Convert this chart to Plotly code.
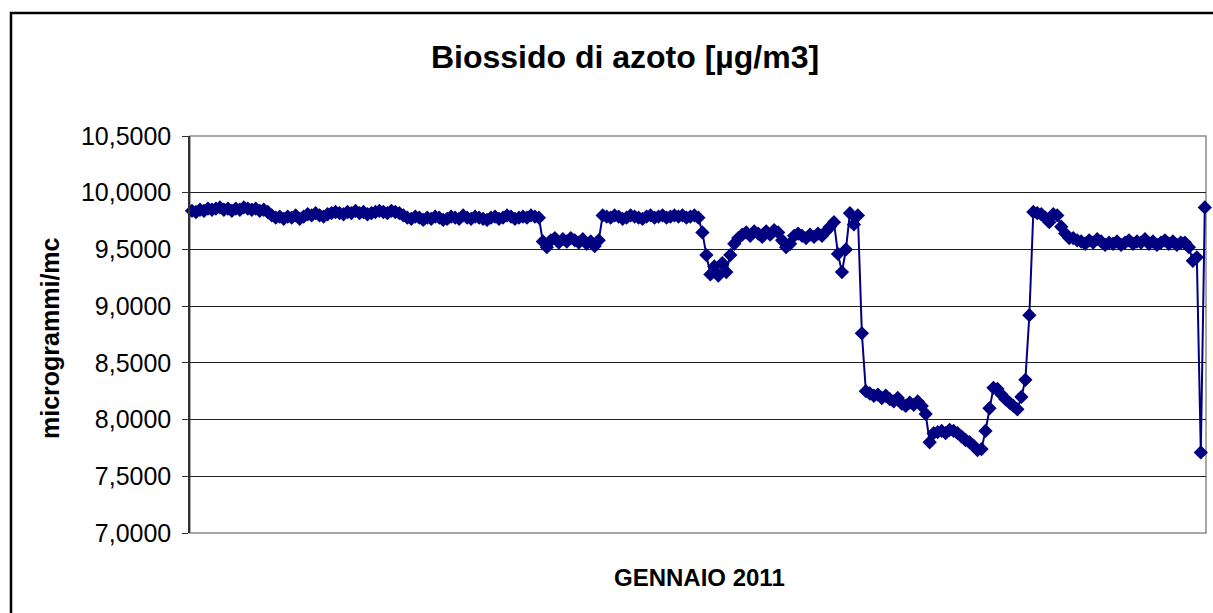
import plotly.graph_objects as go

# NO2 readings, January 2011 (left to right)
valori_1 = [9.84, 9.83, 9.85, 9.84,
            9.86, 9.85, 9.86, 9.87, 9.85, 9.86, 9.84, 9.86, 9.85, 9.87, 9.86, 9.85, 9.86, 9.84, 9.85, 9.83,
            9.80, 9.78, 9.79, 9.77, 9.79, 9.78, 9.80, 9.77, 9.79, 9.81, 9.80, 9.82, 9.80, 9.79, 9.81, 9.82]
valori_2 = [9.83, 9.82, 9.81, 9.83, 9.82, 9.84, 9.82, 9.83, 9.81, 9.82, 9.83, 9.84, 9.83, 9.82, 9.84, 9.83, 9.82, 9.80,
            9.78, 9.77, 9.79, 9.78, 9.76, 9.78, 9.77, 9.79, 9.78, 9.76, 9.77, 9.79, 9.78, 9.77, 9.80, 9.78, 9.77,
            9.79, 9.78, 9.77, 9.76, 9.78, 9.79, 9.77, 9.78, 9.80, 9.79, 9.77, 9.78, 9.79, 9.78, 9.80, 9.79, 9.78]
valori_3 = [9.57, 9.52, 9.58, 9.60, 9.56, 9.59, 9.57, 9.60, 9.58, 9.56, 9.59, 9.55, 9.57, 9.53, 9.58,
            9.80, 9.79, 9.78, 9.80, 9.79, 9.77, 9.78, 9.80, 9.79, 9.78, 9.77, 9.79, 9.80, 9.78, 9.79, 9.80, 9.78,
            9.79, 9.80, 9.79, 9.80, 9.78, 9.79, 9.80, 9.78,
            9.65, 9.45, 9.28, 9.35, 9.27, 9.38, 9.30, 9.45, 9.55]
valori_4 = [9.60, 9.63, 9.65, 9.62, 9.66, 9.64, 9.61, 9.66, 9.63, 9.67, 9.65,
            9.58, 9.52, 9.55, 9.62,
            9.64, 9.62, 9.60, 9.63, 9.61, 9.64, 9.62, 9.66,
            9.70, 9.74, 9.46, 9.30, 9.50, 9.82, 9.72, 9.80, 8.76]
valori_5 = [8.25, 8.23, 8.21, 8.22, 8.19, 8.21, 8.18, 8.16, 8.19, 8.14, 8.12, 8.15, 8.13, 8.16, 8.12,
            8.05, 7.80, 7.88, 7.89, 7.90, 7.88, 7.91, 7.90, 7.88, 7.85, 7.82, 7.80, 7.77, 7.73, 7.74,
            7.90, 8.10, 8.28, 8.27, 8.22, 8.18, 8.15, 8.12, 8.09, 8.20, 8.35, 8.92]
valori_6 = [9.83, 9.82, 9.81, 9.78, 9.74, 9.81, 9.80, 9.70, 9.64, 9.60,
            9.60, 9.58, 9.57, 9.55, 9.58, 9.56, 9.59, 9.57, 9.54, 9.56,
            9.55, 9.57, 9.54, 9.56, 9.58, 9.55, 9.57, 9.56, 9.59, 9.55,
            9.57, 9.54, 9.56, 9.58, 9.55, 9.57, 9.54, 9.56, 9.56, 9.52,
            9.40, 9.43, 7.71, 9.87]

y_ticks = [7.0, 7.5, 8.0, 8.5, 9.0, 9.5, 10.0, 10.5]

valori = valori_1 + valori_2 + valori_3 + valori_4 + valori_5 + valori_6
ore = list(range(len(valori)))

W, H = 1213, 613
L, R, T, B = 190, 7, 136, 80
pw, ph = W - L - R, H - T - B

font = "Liberation Sans, Arial, sans-serif"
navy = "#000080"

fig = go.Figure()
fig.add_trace(go.Scatter(
    x=ore, y=valori, mode="lines+markers",
    line=dict(color=navy, width=2),
    marker=dict(symbol="diamond", size=11, color=navy),
    cliponaxis=False, showlegend=False))

fig.update_layout(
    width=W, height=H,
    margin=dict(l=L, r=R, t=T, b=B),
    paper_bgcolor="white", plot_bgcolor="white",
    separators=",.",
    font=dict(family=font, color="black"),
    title=dict(text="<b>Biossido di azoto [µg/m3]</b>", font=dict(size=32, family=font),
               x=625 / W, xref="container", xanchor="center",
               y=1 - 57 / H, yref="container", yanchor="middle"),
)
fig.update_xaxes(range=[-0.5, len(valori) - 0.7], showticklabels=False, showgrid=False,
                 zeroline=False, ticks="", showline=False)
fig.update_yaxes(range=[7, 10.5], tickvals=y_ticks, tickformat=".4f",
                 tickfont=dict(size=25, family=font, color="black"),
                 showgrid=True, gridcolor="#202020", gridwidth=1,
                 zeroline=False, showline=True, linecolor="#303030", linewidth=1.5,
                 ticks="outside", ticklen=6, tickcolor="#303030", ticklabelstandoff=6)

# plot area frame (gray) and outer chart border (black)
fig.add_shape(type="rect", xref="paper", yref="paper", x0=0, x1=1, y0=0, y1=1,
              line=dict(color="#8c8c8c", width=1.5), layer="below")
fig.add_shape(type="rect", xref="paper", yref="paper",
              x0=(11 - L) / pw, x1=(W + 10 - L) / pw,
              y0=-(H + 10 - (H - B)) / ph, y1=1 + (T - 13) / ph,
              line=dict(color="black", width=2.5))

fig.add_annotation(text="<b>microgrammi/mc</b>", textangle=-90, showarrow=False,
                   xref="paper", yref="paper", x=(50 - L) / pw, y=(H - B - 338) / ph,
                   xanchor="center", yanchor="middle", font=dict(size=25, family=font))
fig.add_annotation(text="<b>GENNAIO 2011</b>", showarrow=False,
                   xref="paper", yref="paper", x=(699 - L) / pw, y=(H - B - 577) / ph,
                   xanchor="center", yanchor="middle", font=dict(size=24, family=font))

fig.write_html("out.html", config={"displayModeBar": False},
               post_script="document.body.style.margin='0';")
